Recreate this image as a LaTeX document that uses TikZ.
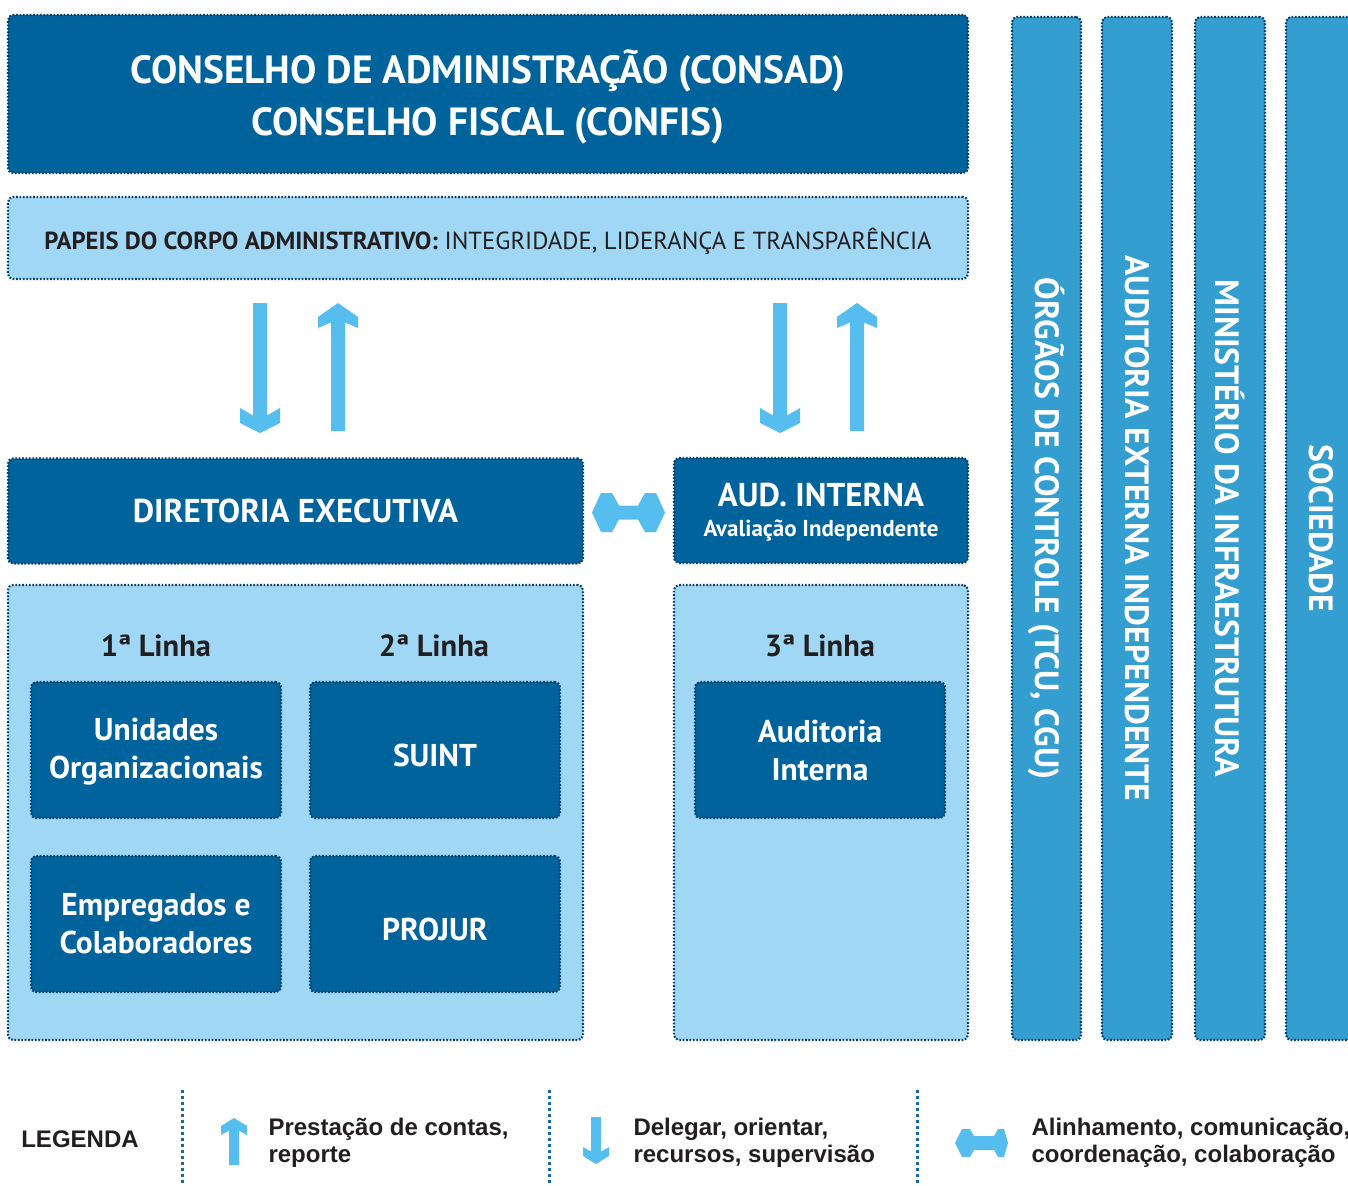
\documentclass[tikz,border=0pt]{standalone}
\usepackage{fontspec}
\setmainfont{PT Sans}
\newfontfamily\legfont{Liberation Sans}
\definecolor{dkblue}{RGB}{0,99,155}
\definecolor{bordc}{RGB}{4,64,104}
\definecolor{ltblue}{RGB}{160,215,245}
\definecolor{barblue}{RGB}{51,158,207}
\definecolor{arrowc}{RGB}{85,190,238}
\definecolor{txtdark}{RGB}{35,31,32}
\definecolor{legline}{RGB}{20,105,170}
\newcommand\arrdown[7]{%
\fill[arrowc] (#1-#4,#2) -- (#1-#4,{#3-(#6+#7)/2}) -- (#1-#5,#3-#7) -- (#1-#5,#3-#6) -- (#1,#3) -- (#1+#5,#3-#6) -- (#1+#5,#3-#7) -- (#1+#4,{#3-(#6+#7)/2}) -- (#1+#4,#2) -- cycle;}
\newcommand\arrup[7]{%
\fill[arrowc] (#1-#4,#2) -- (#1-#4,{#3+(#6+#7)/2}) -- (#1-#5,#3+#7) -- (#1-#5,#3+#6) -- (#1,#3) -- (#1+#5,#3+#6) -- (#1+#5,#3+#7) -- (#1+#4,{#3+(#6+#7)/2}) -- (#1+#4,#2) -- cycle;}
\begin{document}
\begin{tikzpicture}[x=1pt,y=-1pt,
  dotbox/.style={draw=bordc, line width=2.1pt, dash pattern=on 1.7pt off 1.7pt, rounded corners=5pt, inner sep=0pt, align=center},
  darkbox/.style={dotbox, fill=dkblue, text=white, font=\bfseries},
  lightbox/.style={dotbox, fill=ltblue, text=txtdark},
  barbox/.style={dotbox, fill=barblue},
  bartext/.style={rotate=-90, text=white, font=\bfseries\fontsize{33.7}{38}\selectfont},
  linetext/.style={text=txtdark, font=\bfseries\fontsize{30.5}{34}\selectfont},
  innertext/.style={text=white, align=center, font=\bfseries\fontsize{31.5}{38}\selectfont},
  legtext/.style={text=txtdark, anchor=west, align=left, font=\legfont\bfseries\fontsize{24}{27}\selectfont},
  legsep/.style={draw=legline, line width=3pt, dash pattern=on 3pt off 3pt}]
\useasboundingbox (0,0) rectangle (1348,1185);
\fill[white] (0,0) rectangle (1348,1185);

% top boxes
\node[darkbox, minimum width=960, minimum height=158] (consad) at (488,94) {};
\node[text=white, align=center, font=\bfseries\fontsize{39.3}{52}\selectfont] (consadt) at (488,97)
  {CONSELHO DE ADMINISTRAÇÃO (CONSAD)\\CONSELHO FISCAL (CONFIS)};
\node[lightbox, minimum width=960, minimum height=82] (papeis) at (488,238) {};
\node[text=txtdark, font=\fontsize{24.7}{28}\selectfont] (papeist) at (488,241)
  {\textbf{PAPEIS DO CORPO ADMINISTRATIVO:} INTEGRIDADE, LIDERANÇA E TRANSPARÊNCIA};

% middle boxes
\node[darkbox, minimum width=575, minimum height=105, font=\bfseries\fontsize{33}{36}\selectfont] (dir) at (295.5,511) {DIRETORIA EXECUTIVA};
\node[darkbox, minimum width=294, minimum height=105] (aud) at (821,510.5) {};
\node[anchor=base, text=white, font=\bfseries\fontsize{33}{36}\selectfont] (audt1) at (821,506) {AUD. INTERNA};
\node[anchor=base, text=white, font=\bfseries\fontsize{23}{26}\selectfont] (audt2) at (821,536) {Avaliação Independente};

% line containers
\node[lightbox, minimum width=575, minimum height=455] (left) at (295.5,812.5) {};
\node[lightbox, minimum width=294, minimum height=455] (right) at (821,812.5) {};
\node[linetext] (l1) at (156,646) {1ª Linha};
\node[linetext] (l2) at (434,646) {2ª Linha};
\node[linetext] (l3) at (820,646) {3ª Linha};

\node[darkbox, minimum width=250, minimum height=136] (unid) at (156,750) {};
\node[darkbox, minimum width=250, minimum height=136] (suint) at (435,750) {};
\node[darkbox, minimum width=250, minimum height=136] (empr) at (156,924) {};
\node[darkbox, minimum width=250, minimum height=136] (projur) at (435,924) {};
\node[darkbox, minimum width=250, minimum height=136] (audint) at (820,750) {};
\node[innertext] (unidt) at (156,752) {Unidades\\Organizacionais};
\node[innertext] (suintt) at (435,755) {SUINT};
\node[innertext] (emprt) at (156,924) {Empregados e\\Colaboradores};
\node[innertext] (projurt) at (435,929) {PROJUR};
\node[innertext] (audintt) at (820,751) {Auditoria\\Interna};

% vertical bars
\begin{scope}
\clip (0,0) rectangle (1348,1185);
\node[barbox, minimum width=69, minimum height=1023] (b1) at (1046.5,528.5) {};
\node[barbox, minimum width=70, minimum height=1023] (b2) at (1137,528.5) {};
\node[barbox, minimum width=70, minimum height=1023] (b3) at (1230,528.5) {};
\node[barbox, minimum width=70, minimum height=1023] (b4) at (1321,528.5) {};
\end{scope}
\node[bartext] (t1) at (b1.center) {ÓRGÃOS DE CONTROLE (TCU, CGU)};
\node[bartext] (t2) at (b2.center) {AUDITORIA EXTERNA INDEPENDENTE};
\node[bartext] (t3) at (b3.center) {MINISTÉRIO DA INFRAESTRUTURA};
\node[bartext] (t4) at (1321,528.5) {SOCIEDADE};

% block arrows between boxes
\arrdown{260}{303}{433}{7}{20}{10}{25}
\arrup{338}{431}{303}{7}{20}{14}{25}
\arrdown{780}{303}{433}{7}{20}{10}{25}
\arrup{857}{431}{303}{7}{20}{14}{25}
\fill[arrowc] (592,512.5) -- (601,493) -- (612,493) -- (619,505.5) -- (638,505.5) -- (645,493) -- (656,493) -- (665,512.5) -- (656,532) -- (645,532) -- (638,519.5) -- (619,519.5) -- (612,532) -- (601,532) -- cycle;

% legend
\node[text=txtdark, font=\legfont\bfseries\fontsize{24}{28}\selectfont] (leg) at (80,1139) {LEGENDA};
\coordinate (s1a) at (182,1090); \coordinate (s1b) at (182,1185);
\coordinate (s2a) at (549,1090); \coordinate (s2b) at (549,1185);
\coordinate (s3a) at (917,1090); \coordinate (s3b) at (917,1185);
\draw[legsep] (s1a) -- (s1b);
\draw[legsep] (s2a) -- (s2b);
\draw[legsep] (s3a) -- (s3b);
\arrup{234}{1165}{1118}{5}{13}{8}{17}
\node[legtext] (lg1) at (265,1143) {Prestação de contas,\\reporte};
\arrdown{596}{1117}{1164}{5}{13}{8}{17}
\node[legtext] (lg2) at (630,1143) {Delegar, orientar,\\recursos, supervisão};
\fill[arrowc] (955,1143) -- (962,1129) -- (970,1129) -- (974,1136) -- (994,1136) -- (998,1129) -- (1004,1129) -- (1008,1143) -- (1004,1157) -- (998,1157) -- (994,1150) -- (974,1150) -- (970,1157) -- (962,1157) -- cycle;
\node[legtext] (lg3) at (1028,1143) {Alinhamento, comunicação,\\coordenação, colaboração};
\end{tikzpicture}
\end{document}
